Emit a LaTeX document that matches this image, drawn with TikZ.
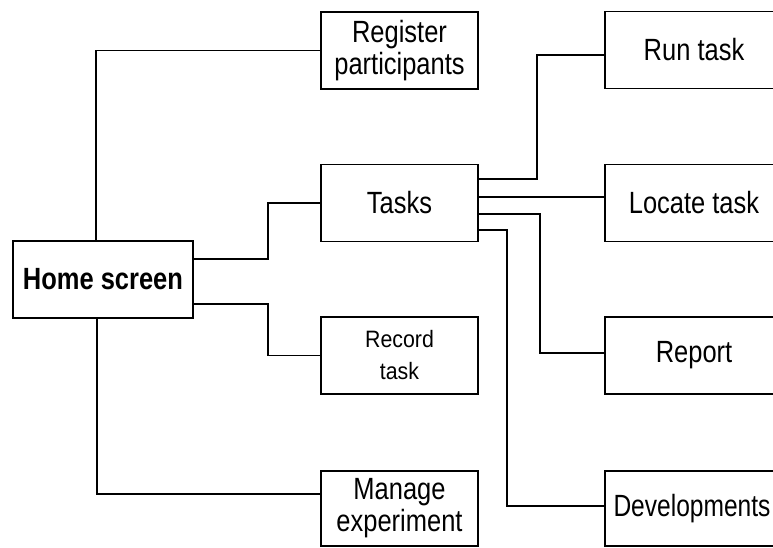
\documentclass[tikz,border=0pt]{standalone}
\usepackage{fontspec}
\setmainfont{Liberation Sans}[FakeStretch=0.83]
\newfontfamily\narrowfam{Liberation Sans}[FakeStretch=0.9]
\newfontfamily\tightfam{Liberation Sans}[FakeStretch=0.8]

\tikzset{
  box/.style={draw, line width=1.8pt, inner sep=0pt, align=center,
    font=\fontsize{30.7}{32}\selectfont},
  leftbox/.style={box, minimum width=157pt, minimum height=77pt},
  rightbox/.style={box, minimum width=178pt, minimum height=77pt},
  link/.style={line width=1.8pt}
}

\begin{document}
\begin{tikzpicture}[x=1pt, y=-1pt]
  \clip (0,0) rectangle (773,548);
  \fill[white] (0,0) rectangle (773,548);

  % root
  \node[box, minimum width=180pt, minimum height=77pt,
        font=\fontsize{30.7}{32}\selectfont\bfseries] (home) at (103,279.5) {Home screen};

  % first level
  \node[leftbox] (reg)  at (399.5,50.5)  {Register\\participants};
  \node[leftbox] (tasks) at (399.5,203)  {Tasks};
  \node[leftbox, font=\narrowfam\fontsize{23.7}{32}\selectfont] (rec) at (399.5,355.5) {Record\\task};
  \node[leftbox, minimum height=75pt] (man) at (399.5,508.5) {Manage\\experiment};

  % task options
  \node[rightbox] (run) at (694,50)    {Run task};
  \node[rightbox] (loc) at (694,203)   {Locate task};
  \node[rightbox] (rep) at (694,355.5) {Report};
  \node[rightbox, minimum height=75pt] (dev) at (694,508.5) {};
  \node[font=\tightfam\fontsize{30.7}{32}\selectfont, inner sep=0pt]
        (devtext) at ([xshift=-2pt]dev.center) {Developments};

  % connectors from the home screen
  \draw[link] ([xshift=-7pt]home.north) |- (reg.west);
  \draw[link] ([yshift=20.5pt]home.east) -- ++(74,0) |- (tasks.west);
  \draw[link] ([yshift=-24.5pt]home.east) -- ++(74,0) |- (rec.west);
  \draw[link] ([xshift=-6pt]home.south) |- ([yshift=14.5pt]man.west);

  % connectors from tasks
  \draw[link] ([yshift=24pt]tasks.east) -- ++(58,0) |- ([yshift=-5pt]run.west);
  \draw[link] ([yshift=6pt]tasks.east) -- ([yshift=6pt]loc.west);
  \draw[link] ([yshift=-11pt]tasks.east) -- ++(61,0) |- ([yshift=2.5pt]rep.west);
  \draw[link] ([yshift=-27pt]tasks.east) -- ++(28,0) |- ([yshift=2.5pt]dev.west);
\end{tikzpicture}
\end{document}
